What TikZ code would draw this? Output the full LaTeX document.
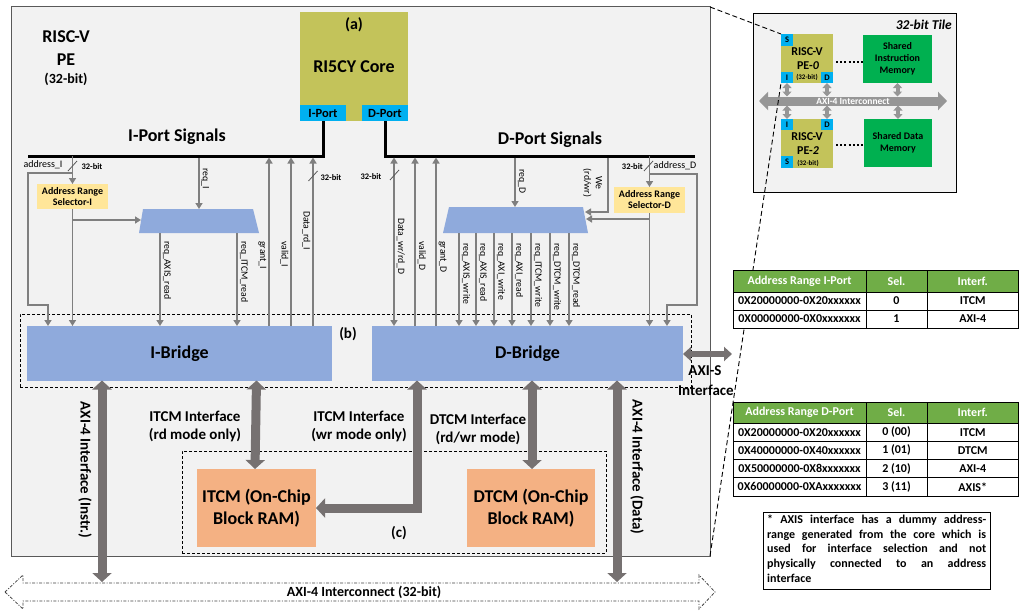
\documentclass[tikz,border=0pt]{standalone}
\usepackage{fontspec}
\setmainfont{Carlito}
\usetikzlibrary{arrows.meta}
\definecolor{pefill}{HTML}{F2F2F2}
\definecolor{peline}{HTML}{595959}
\definecolor{olive}{HTML}{C3C35A}
\definecolor{portc}{HTML}{00B0F0}
\definecolor{bridgec}{HTML}{8FAADC}
\definecolor{selc}{HTML}{FFE699}
\definecolor{tcmc}{HTML}{F4B183}
\definecolor{memc}{HTML}{00B050}
\definecolor{hdrc}{HTML}{70AD47}
\definecolor{sigc}{HTML}{7F7F7F}
\definecolor{bigc}{HTML}{767171}
\definecolor{tilegray}{HTML}{969696}
\definecolor{ic}{HTML}{404040}
\newcommand{\fsz}[2]{\fontsize{#1}{#2}\selectfont}
\begin{document}
\begin{tikzpicture}[x=1pt,y=-1pt,
  box/.style={inner sep=0pt,outer sep=0pt,anchor=north west},
  txt/.style={inner sep=0pt,align=center},
  sig/.style={draw=sigc,line width=1.5pt},
  sa/.style={sig,-{Triangle[width=7pt,length=6pt]}},
  sda/.style={sig,{Triangle[width=7pt,length=6pt]}-{Triangle[width=7pt,length=6pt]}},
  slash/.style={draw=sigc!70!black,line width=0.8pt},
  rl/.style={rotate=-90,inner sep=1pt,font=\fsz{9.75}{11}},
  bits/.style={inner sep=0pt,font=\fsz{8.5}{10}\bfseries},
  big/.style={draw=bigc,line width=9pt,line join=miter,{Triangle[width=19pt,length=9pt]}-{Triangle[width=19pt,length=9pt]}},
  dbox/.style={draw=black,line width=0.8pt,dash pattern=on 3pt off 2pt},
  zoomline/.style={draw=black,line width=0.9pt,dash pattern=on 5pt off 3pt},
  cell/.style={box,draw=black,line width=0.8pt,font=\fsz{12}{14}\bfseries},
  hdr/.style={cell,fill=hdrc,text=white},
  port/.style={box,fill=portc,font=\fsz{8.5}{10}\bfseries},
  tarrow/.style={draw=tilegray,line width=4pt,{Triangle[width=9pt,length=5pt]}-{Triangle[width=9pt,length=5pt]}},
]
\useasboundingbox (0,0) rectangle (1019,610);

% ---------------- processing element frame ----------------
\node[box,draw=peline,fill=pefill,line width=1pt,minimum width=699pt,minimum height=549pt] (pe) at (11,7) {};
\node[txt,font=\fsz{18}{21}\bfseries] (petitle) at (66,37) {RISC-V};
\node[txt,font=\fsz{18}{21}\bfseries] (pename) at (66,60) {PE};
\node[txt,font=\fsz{14}{16}\bfseries] (pebits) at (66,79) {(32-bit)};

% dashed groups (b) and (c)
\node[box,dbox,minimum width=671pt,minimum height=73pt] (grpb) at (20,314) {};
\node[txt,font=\fsz{15}{18}\bfseries] (grpblbl) at (348,334) {(b)};
\node[box,dbox,minimum width=424pt,minimum height=102pt] (grpc) at (182,451) {};
\node[txt,font=\fsz{15}{18}\bfseries] (grpclbl) at (399,533) {(c)};

% ---------------- core ----------------
\node[box,fill=olive,minimum width=108pt,minimum height=109pt] (core) at (300,12) {};
\node[txt,font=\fsz{16}{18}\bfseries] (corea) at (354,25) {(a)};
\node[txt,font=\fsz{18}{21}\bfseries] (corename) at (354,67) {RI5CY Core};
\node[box,fill=portc,minimum width=46pt,minimum height=16pt,font=\fsz{12.5}{14}\bfseries] (iport) at (300,105) {I-Port};
\node[box,fill=portc,minimum width=46pt,minimum height=16pt,font=\fsz{12.5}{14}\bfseries] (dport) at (362,105) {D-Port};

% signal buses
\coordinate (ibusend) at (28,156);
\coordinate (dbusend) at (695,156);
\draw[line width=3pt,line join=miter] (iport.south) |- (ibusend);
\draw[line width=3pt,line join=miter] (dport.south) |- (dbusend);
\node[txt,font=\fsz{18}{21}\bfseries] (ilbl) at (177,137) {I-Port Signals};
\node[txt,font=\fsz{18}{21}\bfseries] (dlbl) at (550,140) {D-Port Signals};

% ---------------- bridges, selectors, muxes ----------------
\node[box,fill=bridgec,minimum width=305pt,minimum height=54.5pt,font=\fsz{18}{21}\bfseries] (ibr) at (27,326) {I-Bridge};
\node[box,fill=bridgec,minimum width=311pt,minimum height=54.5pt,font=\fsz{18}{21}\bfseries] (dbr) at (372,326) {D-Bridge};
\node[box,fill=selc,minimum width=71pt,minimum height=25pt,align=center,font=\fsz{10}{11}\bfseries] (selI) at (37,184) {Address Range\\Selector-I};
\node[box,fill=selc,minimum width=71pt,minimum height=26pt,align=center,font=\fsz{10}{11}\bfseries] (selD) at (614,187) {Address Range\\Selector-D};
\fill[bridgec] (143,209) -- (253,209) -- (259,233) -- (139,233) -- cycle;
\fill[bridgec] (449,207) -- (583,207) -- (588,233) -- (443,233) -- cycle;
\coordinate (muxI) at (199,221);
\coordinate (muxD) at (515,220);

% ---------------- I-port signals ----------------
\coordinate (tapAI) at (selI.north |- ibusend);
\draw[sa] (tapAI) -- (selI.north);
\draw[sa] (72.5,173) -| (28,305) -| (48,326);
\draw[slash] (68,171) -- (77,161);
\node[inner sep=0pt,font=\fsz{10}{11}] (addrI) at (43,165) {address\_I};
\node[bits] (bitsAI) at (92,167) {32-bit};
\draw[sa] (selI.south) -- (selI.south |- ibr.north);
\draw[sa] (72.5,220) -- (141,220);
\draw[sa] (199,157.5) -- (199,209);
\node[rl,anchor=south west] at (200,167) {req\_I};
\draw[sa] (160,233) -- (160,326);
\node[rl,anchor=south west] at (161.5,240) {req\_AXIS\_read};
\draw[sa] (237,233) -- (237,326);
\node[rl,anchor=south west] at (238.5,240) {req\_ITCM\_read};
\draw[sa] (269,326) -- (269,157.5);
\node[rl,anchor=north west] at (267.5,240) {grant\_I};
\draw[sa] (291,326) -- (291,157.5);
\node[rl,anchor=north west] at (289.5,240) {valid\_I};
\draw[sa] (313,326) -- (313,157.5);
\node[rl,anchor=north west] at (311.5,210) {Data\_rd\_I};
\draw[slash] (308.5,181) -- (317.5,171);
\node[bits] (bitsDI) at (331,178) {32-bit};

% ---------------- D-port signals ----------------
\draw[sda] (394,157.5) -- (394,326);
\node[rl,anchor=south west] at (395.5,217) {Data\_wr/rd\_D};
\draw[slash] (390,180) -- (399,170);
\node[bits] (bitsDD) at (371,177) {32-bit};
\draw[sa] (415,326) -- (415,157.5);
\node[rl,anchor=south west] at (416.5,240) {valid\_D};
\draw[sa] (436,326) -- (436,157.5);
\node[rl,anchor=south west] at (437.5,240) {grant\_D};
\draw[sa] (515,157.5) -- (515,207);
\node[rl,anchor=south west] at (516.5,168) {req\_D};
\draw[sa] (608,157.5) |- (585,212);
\node[rl,align=center,font=\fsz{9.75}{11.5}] at (592.5,183) {We\\(rd/wr)};
\coordinate (tapAD) at (selD.north |- dbusend);
\draw[sa] (tapAD) -- (selD.north);
\draw[slash] (644,171) -- (653,161);
\node[bits,anchor=east] (bitsAD) at (643,167) {32-bit};
\node[inner sep=0pt,font=\fsz{10}{11},anchor=west] (addrD) at (653.5,166) {address\_D};
\draw[sa] (649.5,174) -| (697,305) -| (667,326);
\draw[sa] (selD.south) -- (selD.south |- dbr.north);
\draw[sa] (649.5,219) -- (586,219);
\foreach \x/\s in {459/req\_AXIS\_write,476/req\_AXIS\_read,494/req\_AXI\_write,512/req\_AXI\_read,531/req\_ITCM\_write,550/req\_DTCM\_write,569/req\_DTCM\_read}{
  \draw[sa] (\x,233) -- (\x,326);
  \node[rl,anchor=south west] at (\x+1.5,242) {\s};
}

% ---------------- memories and wide interfaces ----------------
\node[box,fill=tcmc,minimum width=119pt,minimum height=78pt,align=center,font=\fsz{18}{22}\bfseries] (itcm) at (197,469) {ITCM (On-Chip\\Block RAM)};
\node[box,fill=tcmc,minimum width=128pt,minimum height=78pt,align=center,font=\fsz{18}{22}\bfseries] (dtcm) at (467,469) {DTCM (On-Chip\\Block RAM)};

\coordinate (icI) at (102,582);
\coordinate (icD) at (617,582);
\draw[big] (ibr.south -| icI) -- (icI);
\draw[big] (ibr.south -| itcm.north) ++(0,0) -- (itcm.north -| 255,0);
\draw[big] (dbr.south -| 417,0) |- (itcm.east |- 0,508);
\draw[big] (dbr.south -| 532,0) -- (dtcm.north -| 532,0);
\draw[big] (dbr.south -| icD) -- (icD);
\draw[draw=bigc,line width=6.5pt,{Triangle[width=14pt,length=8pt]}-{Triangle[width=14pt,length=8pt]}] (dbr.east |- 0,354) -- (732,354);

\node[txt,font=\fsz{15}{18}\bfseries] (itcmrd) at (195,426) {ITCM Interface\\(rd mode only)};
\node[txt,font=\fsz{15}{18}\bfseries] (itcmwr) at (359,426) {ITCM Interface\\(wr mode only)};
\node[txt,font=\fsz{15}{18}\bfseries] (dtcmif) at (478,429) {DTCM Interface\\(rd/wr mode)};
\node[txt,rotate=-90,font=\fsz{15}{18}\bfseries] (axiI) at (85,470) {AXI-4 Interface (Instr.)};
\node[txt,rotate=-90,font=\fsz{15}{18}\bfseries] (axiD) at (637,467) {AXI-4 Interface (Data)};
\node[txt,font=\fsz{15}{18}\bfseries] (axis1) at (705,371) {AXI-S};
\node[txt,font=\fsz{15}{18}\bfseries] (axis2) at (706,390) {Interface};

% system interconnect
\draw[draw=ic,line width=0.8pt,dash pattern=on 3pt off 1.5pt on 1pt off 1.5pt]
  (5,592) -- (23,575) -- (23,583) -- (699,583) -- (699,575) -- (715,592)
  -- (699,609) -- (699,601) -- (23,601) -- (23,609) -- cycle;
\node[txt,font=\fsz{14}{16}\bfseries] (icl) at (364,592) {AXI-4 Interconnect (32-bit)};

% ---------------- tile overview ----------------
\node[box,draw=black,fill=pefill,line width=1pt,minimum width=203pt,minimum height=178pt] (tile) at (753,14) {};
\node[anchor=east,inner sep=0pt,font=\fsz{13.5}{15}\bfseries\itshape] (tilelbl) at (952,25) {32-bit Tile};

\node[box,fill=olive,minimum width=52pt,minimum height=49pt] (pe0) at (781,34) {};
\node[txt,font=\fsz{12}{14}\bfseries] at (807,52) {RISC-V};
\node[txt,font=\fsz{12}{14}\bfseries] at (808,66) {PE-\textit{0}};
\node[txt,font=\fsz{7}{8}\bfseries] at (807,77.5) {(32-bit)};
\node[port,minimum width=12pt,minimum height=12pt] (pe0s) at (781,34) {S};
\node[port,minimum width=12pt,minimum height=11pt] (pe0i) at (781,72) {I};
\node[port,minimum width=12pt,minimum height=11pt] (pe0d) at (821,72) {D};

\node[box,fill=olive,minimum width=52pt,minimum height=49pt] (pe2) at (781,119) {};
\node[txt,font=\fsz{12}{14}\bfseries] at (807,137) {RISC-V};
\node[txt,font=\fsz{12}{14}\bfseries] at (808,151) {PE-\textit{2}};
\node[txt,font=\fsz{7}{8}\bfseries] at (808,163) {(32-bit)};
\node[port,minimum width=12pt,minimum height=11pt] (pe2i) at (781,119) {I};
\node[port,minimum width=12pt,minimum height=11pt] (pe2d) at (821,119) {D};
\node[port,minimum width=12pt,minimum height=12pt] (pe2s) at (781,156) {S};

\node[box,fill=memc,minimum width=69pt,minimum height=48pt,align=center,font=\fsz{10}{12}\bfseries] (imem) at (863,35) {Shared\\Instruction\\Memory};
\node[box,fill=memc,minimum width=68pt,minimum height=48pt,align=center,font=\fsz{10}{12.5}\bfseries] (dmem) at (864,119) {Shared Data\\Memory};
\draw[line width=2pt,dash pattern=on 2pt off 2.2pt] (pe0.east |- 0,62) ++(3,0) -- (imem.west |- 0,62);
\draw[line width=2pt,dash pattern=on 2pt off 2.2pt] (pe2.east |- 0,145) ++(3,0) -- (dmem.west |- 0,145);

\draw[draw=tilegray,line width=9pt,{Triangle[width=18pt,length=9pt]}-{Triangle[width=18pt,length=9pt]}] (759,101) -- (947,101);
\node[txt,text=white,font=\fsz{9.5}{11}\bfseries] (tileic) at (853,101) {AXI-4 Interconnect};
\draw[tarrow] (pe0i.south) ++(0,0) -- (787,96.5);
\draw[tarrow] (pe0d.south) -- (827,96.5);
\draw[tarrow] (imem.south) -- (897.5,96.5);
\draw[tarrow] (787,105.5) -- (pe2i.north);
\draw[tarrow] (827,105.5) -- (pe2d.north);
\draw[tarrow] (898,105.5) -- (dmem.north);

% zoom lines from the PE frame to the tile
\draw[zoomline] (pe.north east) -- (pe0s.north west);
\draw[zoomline] (pe.south east) -- (pe0i.south west);

% ---------------- address map tables ----------------
\node[hdr,minimum width=133pt,minimum height=22pt] (ih1) at (733,270) {Address Range I-Port};
\node[hdr,minimum width=61pt,minimum height=22pt] (ih2) at (866,270) {Sel.};
\node[hdr,minimum width=91.5pt,minimum height=22pt] (ih3) at (927,270) {Interf.};
\foreach \y/\a/\s/\i in {292/0X20000000-0X20xxxxxx/0/ITCM,310/0X00000000-0X0xxxxxxx/1/AXI-4}{
  \node[cell,fill=white,minimum width=133pt,minimum height=18pt] at (733,\y) {\a};
  \node[cell,fill=white,minimum width=61pt,minimum height=18pt] at (866,\y) {\s};
  \node[cell,fill=white,minimum width=91.5pt,minimum height=18pt] at (927,\y) {\i};
}
\node[hdr,minimum width=133pt,minimum height=21pt] (dh1) at (733,402) {Address Range D-Port};
\node[hdr,minimum width=61pt,minimum height=21pt] (dh2) at (866,402) {Sel.};
\node[hdr,minimum width=91.5pt,minimum height=21pt] (dh3) at (927,402) {Interf.};
\foreach \y/\a/\s/\i in {423/0X20000000-0X20xxxxxx/0 (00)/ITCM,441.25/0X40000000-0X40xxxxxx/1 (01)/DTCM,459.5/0X50000000-0X8xxxxxxx/2 (10)/AXI-4,477.75/0X60000000-0XAxxxxxxx/3 (11)/AXIS*}{
  \node[cell,fill=white,minimum width=133pt,minimum height=18.25pt] at (733,\y) {\a};
  \node[cell,fill=white,minimum width=61pt,minimum height=18.25pt] at (866,\y) {\s};
  \node[cell,fill=white,minimum width=91.5pt,minimum height=18.25pt] at (927,\y) {\i};
}

% footnote
\node[box,draw=black,fill=white,line width=0.9pt,minimum width=227pt,minimum height=77pt] (note) at (763,512) {};
\node[anchor=north west,inner sep=0pt,align=left,font=\fsz{12}{14.6}\bfseries] (notetxt) at (767,515) {%
\makebox[219pt][s]{* AXIS interface has a dummy address-}\\
\makebox[219pt][s]{range generated from the core which is}\\
\makebox[219pt][s]{used for interface selection and not}\\
\makebox[219pt][s]{physically connected to an address}\\
interface};
\end{tikzpicture}
\end{document}
